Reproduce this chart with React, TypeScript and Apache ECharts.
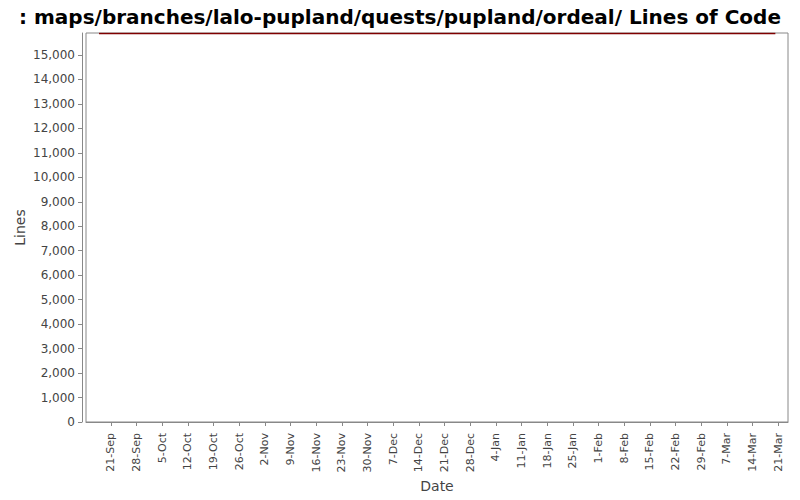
import React, { useEffect, useRef } from "react";
import * as echarts from "echarts";

const TITLE = ": maps/branches/lalo-pupland/quests/pupland/ordeal/ Lines of Code";
const tickDates = [
  "2007-09-21", "2007-09-28", "2007-10-05", "2007-10-12", "2007-10-19", "2007-10-26",
  "2007-11-02", "2007-11-09", "2007-11-16", "2007-11-23", "2007-11-30", "2007-12-07",
  "2007-12-14", "2007-12-21", "2007-12-28", "2008-01-04", "2008-01-11", "2008-01-18",
  "2008-01-25", "2008-02-01", "2008-02-08", "2008-02-15", "2008-02-22", "2008-02-29",
  "2008-03-07", "2008-03-14", "2008-03-21",
];
const dataDates = ["2007-09-17T18:00:00", "2008-03-20T06:00:00"];
const dataLines = [15880, 15880];
const yTicks = [0, 1000, 2000, 3000, 4000, 5000, 6000, 7000, 8000, 9000, 10000, 11000, 12000, 13000, 14000, 15000];

const MONTHS = ["Jan", "Feb", "Mar", "Apr", "May", "Jun", "Jul", "Aug", "Sep", "Oct", "Nov", "Dec"];
const toMs = (s: string) => new Date(s + (s.length === 10 ? "T00:00:00Z" : "Z")).getTime();
const fmt = (v: number) => {
  const d = new Date(v);
  return d.getUTCDate() + "-" + MONTHS[d.getUTCMonth()];
};

export default function App() {
  const ref = useRef<HTMLDivElement>(null);
  useEffect(() => {
    if (!ref.current) return;
    const chart = echarts.init(ref.current, null, { renderer: "svg" });
    const tickMs = tickDates.map(toMs);
    const day = 86400000;
    chart.setOption({
      animation: false,
      backgroundColor: "#ffffff",
      title: {
        text: TITLE,
        left: "center",
        top: 2,
        textStyle: { fontFamily: "DejaVu Sans", fontWeight: "bold", fontSize: 20, color: "#000" },
      },
      grid: {
        left: 86, top: 33, right: 12, bottom: 78,
        outerBoundsMode: "none",
        containLabel: false,
        show: true, borderColor: "#888888", borderWidth: 1, backgroundColor: "#ffffff",
      },
      xAxis: {
        type: "value",
        min: tickMs[0] - 6.8 * day,
        max: tickMs[tickMs.length - 1] + 2.7 * day,
        offset: 4,
        name: "Date",
        nameLocation: "middle",
        nameGap: 53,
        nameMoveOverlap: false,
        nameTextStyle: { fontFamily: "DejaVu Sans", fontSize: 14, color: "#444" },
        axisLine: { show: true, lineStyle: { color: "#888888", width: 1 } },
        axisTick: { show: true, length: 4, customValues: tickMs, lineStyle: { color: "#888888" } },
        axisLabel: {
          customValues: tickMs,
          rotate: 90,
          margin: 7,
          formatter: (v: number) => fmt(v),
          fontFamily: "DejaVu Sans", fontSize: 11, color: "#444",
        },
        splitLine: { show: false },
      },
      yAxis: {
        type: "value",
        min: 0,
        max: 15900,
        offset: 4,
        name: "Lines",
        nameLocation: "middle",
        nameGap: 55,
        nameMoveOverlap: false,
        nameTextStyle: { fontFamily: "DejaVu Sans", fontSize: 14, color: "#444" },
        axisLine: { show: true, lineStyle: { color: "#888888", width: 1 } },
        axisTick: { show: true, length: 4, customValues: yTicks, lineStyle: { color: "#888888" } },
        axisLabel: {
          customValues: yTicks,
          margin: 7,
          formatter: (v: number) => v.toLocaleString("en-US"),
          fontFamily: "DejaVu Sans", fontSize: 12, color: "#444",
        },
        splitLine: { show: false },
      },
      series: [
        {
          type: "line",
          data: dataDates.map((d, i) => [toMs(d), dataLines[i]]),
          symbol: "none",
          lineStyle: { color: "#800000", width: 1.5 },
        },
      ],
    });
    return () => chart.dispose();
  }, []);
  return <div ref={ref} style={{ width: 800, height: 500, position: "absolute", left: 0, top: 0 }} />;
}
